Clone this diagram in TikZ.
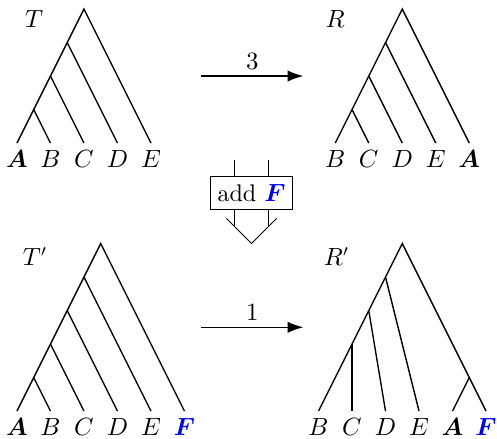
\documentclass[tikz,border=0pt]{standalone}
\usepackage{amsmath}
\usepackage{bm}
\usepackage{xcolor}
\usetikzlibrary{positioning, arrows.meta}

\begin{document}
\begin{tikzpicture}[x=14.74pt, y=14.74pt, semithick, font=\fontsize{10.6}{12.7}\selectfont,
    leaf/.style={below, inner sep=0.5pt, yshift=-2.4pt},
    move/.style={-{Latex[length=7pt, width=5pt]}}]
  \useasboundingbox (-0.507,-8.806) rectangle (14.328,4.269);

  % Tree T
  \begin{scope}
    \coordinate (t0) at (2,4);
    \foreach \x/\l in {0/a, 1/b, 2/c, 3/d, 4/e} {
      \coordinate (t\l) at (\x,0);
    }
    \coordinate (t1) at (0.5,1);
    \coordinate (t2) at (1,2);
    \coordinate (t3) at (1.5,3);
    \draw (ta) -- (t0) -- (te);
    \draw (t1) -- (tb);
    \draw (t2) -- (tc);
    \draw (t3) -- (td);
    \foreach \l/\txt in {a/{$\bm{A}$}, b/$B$, c/$C$, d/$D$, e/$E$} {
      \node[leaf] (tl\l) at (t\l) {\txt};
    }
    \node (tname) at (0.51,3.69) {$T$};
  \end{scope}

  % Tree R
  \begin{scope}[shift={(9.5,0)}]
    \coordinate (r0) at (2,4);
    \foreach \x/\l in {0/b, 1/c, 2/d, 3/e, 4/a} {
      \coordinate (r\l) at (\x,0);
    }
    \coordinate (r1) at (0.5,1);
    \coordinate (r2) at (1,2);
    \coordinate (r3) at (1.5,3);
    \draw (rb) -- (r0) -- (ra);
    \draw (r1) -- (rc);
    \draw (r2) -- (rd);
    \draw (r3) -- (re);
    \foreach \l/\txt in {b/$B$, c/$C$, d/$D$, e/$E$, a/{$\bm{A}$}} {
      \node[leaf] (rl\l) at (r\l) {\txt};
    }
    \node (rname) at (0,3.69) {$R$};
  \end{scope}

  % Tree T'
  \begin{scope}[shift={(0,-8)}]
    \coordinate (u0) at (2.5,5);
    \foreach \x/\l in {0/a, 1/b, 2/c, 3/d, 4/e, 5/f} {
      \coordinate (u\l) at (\x,0);
    }
    \coordinate (u1) at (0.5,1);
    \coordinate (u2) at (1,2);
    \coordinate (u3) at (1.5,3);
    \coordinate (u4) at (2,4);
    \draw (ua) -- (u0) -- (uf);
    \draw (u1) -- (ub);
    \draw (u2) -- (uc);
    \draw (u3) -- (ud);
    \draw (u4) -- (ue);
    \foreach \l/\txt in {a/{$\bm{A}$}, b/$B$, c/$C$, d/$D$, e/$E$, f/{\textcolor{blue}{$\bm{F}$}}} {
      \node[leaf] (ul\l) at (u\l) {\txt};
    }
    \node (uname) at (0.54,4.61) {$T'$};
  \end{scope}

  % Tree R'
  \begin{scope}[shift={(9,-8)}]
    \coordinate (s0) at (2.5,5);
    \foreach \x/\l in {0/b, 1/c, 2/d, 3/e, 4/a, 5/f} {
      \coordinate (s\l) at (\x,0);
    }
    \coordinate (s2) at (1,2);
    \coordinate (s3) at (1.5,3);
    \coordinate (s4) at (2,4);
    \coordinate (s5) at (4.5,1);
    \draw (sb) -- (s0) -- (sf);
    \draw (s2) -- (sc);
    \draw (s3) -- (sd);
    \draw (s4) -- (se);
    \draw (s5) -- (sa);
    \foreach \l/\txt in {b/$B$, c/$C$, d/$D$, e/$E$, a/{$\bm{A}$}, f/{\textcolor{blue}{$\bm{F}$}}} {
      \node[leaf] (sl\l) at (s\l) {\txt};
    }
    \node (sname) at (0.54,4.61) {$R'$};
  \end{scope}

  % Moves
  \coordinate (m1s) at (5.5,2);
  \coordinate (m1e) at (8.55,2);
  \draw[move] (m1s) -- node[above, inner sep=2.5pt] (m1) {$3$} (m1e);
  \coordinate (m2s) at (5.5,-5.5);
  \coordinate (m2e) at (8.55,-5.5);
  \draw[move] (m2s) -- node[above, inner sep=2.5pt] (m2) {$1$} (m2e);

  % Adding F
  \node[draw, thin, minimum width=36pt, minimum height=14.5pt, inner sep=2pt] (add) at (7,-1.48)
    {add \textcolor{blue}{$\bm{F}$}};
  \coordinate (a1) at (6.5,-0.5);
  \coordinate (a2) at (7.5,-0.5);
  \coordinate (b1) at (6.5,-2.5);
  \coordinate (b2) at (7.5,-2.5);
  \coordinate (v1) at (6.25,-2.25);
  \coordinate (v2) at (7,-3);
  \coordinate (v3) at (7.75,-2.25);
  \draw[thin] (a1) -- (a1 |- add.north);
  \draw[thin] (a2) -- (a2 |- add.north);
  \draw[thin] (b1 |- add.south) -- (b1);
  \draw[thin] (b2 |- add.south) -- (b2);
  \draw[thin] (v1) -- (v2) -- (v3);
\end{tikzpicture}
\end{document}
